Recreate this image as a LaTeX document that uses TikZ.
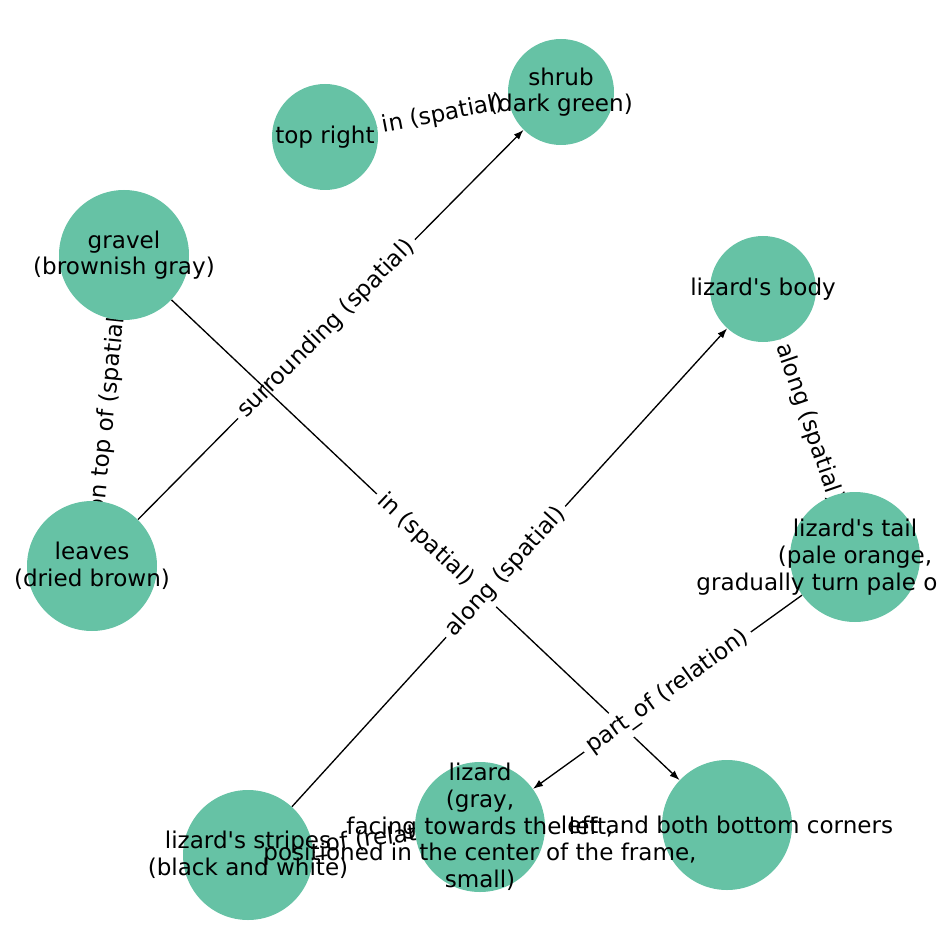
\documentclass[tikz,border=0pt]{standalone}
\usepackage{fontspec}
\setmainfont{DejaVu Sans}[Ligatures=TeXOff]
\usetikzlibrary{arrows.meta}

\pgfdeclarelayer{edges}
\pgfdeclarelayer{fg}
\pgfsetlayers{edges,main,fg}

\definecolor{nodegreen}{HTML}{66C2A5}

\tikzset{
  blob/.style={circle,fill=nodegreen,inner sep=0pt,minimum size=97.5pt},
  smallblob/.style={blob,minimum size=79.5pt},
  txt/.style={inner sep=0pt,align=center,font=\fontsize{17.3}{20}\selectfont},
  rel/.style={draw=black,line width=1pt,-{Latex[length=7.5pt,width=5.5pt]}},
  rellabel/.style={midway,sloped,fill=white,inner sep=4pt,font=\fontsize{17.3}{20}\selectfont},
}

\begin{document}
\begin{tikzpicture}[x=0.75pt,y=-0.75pt]
\useasboundingbox (0,0) rectangle (948,948);

% circles
\node[smallblob] (toprt) at (325,137) {};
\node[smallblob] (shrub) at (561,92) {};
\node[blob] (gravel) at (124,255) {};
\node[smallblob] (body) at (763,289) {};
\node[blob] (leaves) at (92,566) {};
\node[blob] (tail) at (855,557) {};
\node[blob] (stripes) at (248,855) {};
\node[blob] (lizard) at (480,827) {};
\node[blob] (corners) at (727,825) {};

% texts of the circles
\begin{pgfonlayer}{fg}
\begin{scope}
\clip (0,0) rectangle (937,948);
\node[txt] at (toprt) {top right};
\node[txt] at (shrub) {shrub\\(dark green)};
\node[txt] at (gravel) {gravel\\(brownish gray)};
\node[txt] at (body) {lizard's body};
\node[txt] at (leaves) {leaves\\(dried brown)};
\node[txt] at (tail) {lizard's tail\\(pale orange,\\gradually turn pale orange)};
\node[txt] at (stripes) {lizard's stripes\\(black and white)};
\node[txt] at (lizard) {lizard\\(gray,\\facing towards the left,\\positioned in the center of the frame,\\small)};
\node[txt] at (corners) {left and both bottom corners};
\end{scope}
\end{pgfonlayer}

% relations
\begin{pgfonlayer}{edges}
\draw[rel] (toprt) -- (shrub) node[rellabel] {in (spatial)};
\draw[rel] (leaves) -- (shrub) node[rellabel,pos=0.489] {surrounding (spatial)};
\draw[rel] (leaves) -- (gravel) node[rellabel] {on top of (spatial)};
\draw[rel] (gravel) -- (corners) node[rellabel] {in (spatial)};
\draw[rel] (stripes) -- (body) node[rellabel,pos=0.491] {along (spatial)};
\draw[rel] (body) -- (tail) node[rellabel,pos=0.536] {along (spatial)};
\draw[rel] (tail) -- (lizard) node[rellabel] {part\_of (relation)};
\draw[rel] (stripes) -- (lizard) node[rellabel] {part\_of (relation)};
\end{pgfonlayer}

\end{tikzpicture}
\end{document}
